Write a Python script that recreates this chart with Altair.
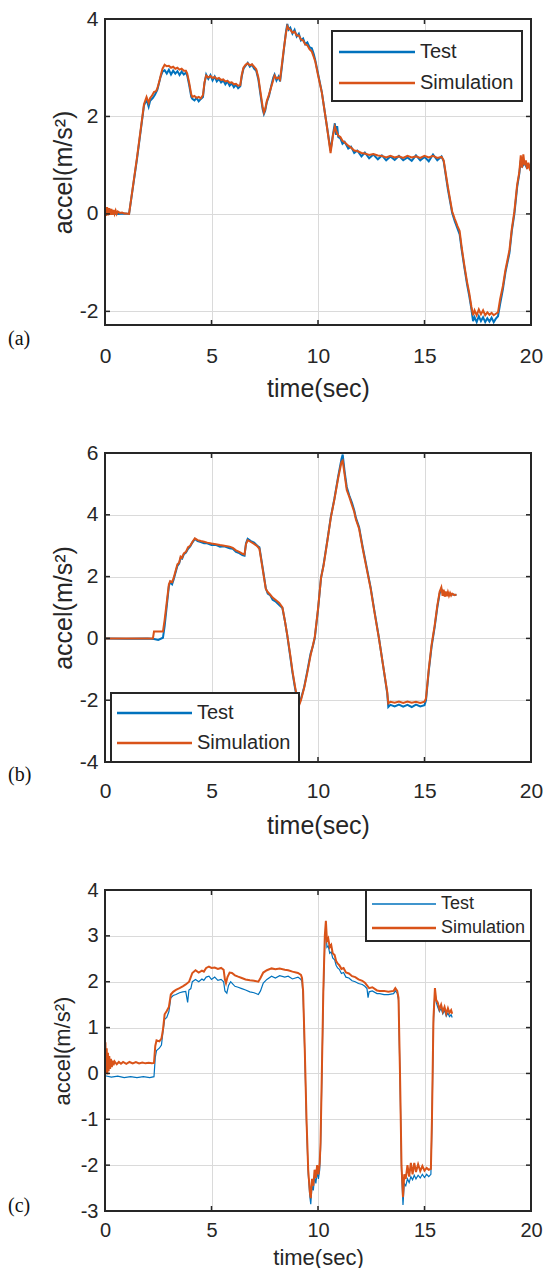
import altair as alt
import pandas as pd

series_names = ["Test", "Simulation"]
series_colors = ["#0072BD", "#D95319"]
x_ticks = [0, 5, 10, 15, 20]
x_domain = [0, 20]
x_title = "time(sec)"
y_title = "accel(m/s\u00b2)"

# ---------------- panel (a) ----------------
a_y_domain = [-2.28, 4]
a_y_ticks = [-2, 0, 2, 4]
a_test = [
    (0.0, 0.00), (0.3, 0.01), (0.6, 0.00), (0.9, 0.01), (1.13, 0.00), (1.50, 1.12), (1.83, 2.22), (1.95, 2.35),
    (2.05, 2.20), (2.12, 2.32), (2.25, 2.38), (2.35, 2.45), (2.46, 2.55), (2.60, 2.80), (2.70, 2.92), (2.80, 2.95),
    (2.90, 2.88), (3.00, 2.96), (3.10, 2.86), (3.20, 2.94), (3.30, 2.88), (3.40, 2.93), (3.50, 2.85), (3.60, 2.92),
    (3.70, 2.86), (3.80, 2.90), (3.86, 2.84), (3.95, 2.65), (4.05, 2.40), (4.10, 2.36), (4.20, 2.33), (4.30, 2.38),
    (4.40, 2.31), (4.50, 2.36), (4.60, 2.40), (4.67, 2.68), (4.75, 2.86), (4.85, 2.77), (4.95, 2.85), (5.05, 2.74),
    (5.15, 2.82), (5.25, 2.72), (5.35, 2.77), (5.45, 2.70), (5.55, 2.74), (5.65, 2.66), (5.75, 2.72), (5.85, 2.63),
    (5.95, 2.68), (6.05, 2.60), (6.15, 2.65), (6.25, 2.58), (6.35, 2.62), (6.42, 2.82), (6.50, 2.98), (6.60, 3.04),
    (6.70, 3.10), (6.80, 3.02), (6.90, 3.06), (7.00, 2.98), (7.10, 2.94), (7.20, 2.76), (7.30, 2.45), (7.40, 2.15),
    (7.46, 2.05), (7.52, 2.12), (7.60, 2.30), (7.70, 2.42), (7.80, 2.62), (7.90, 2.80), (7.96, 2.86), (8.05, 2.74),
    (8.15, 2.82), (8.22, 2.72), (8.30, 3.00), (8.40, 3.38), (8.50, 3.75), (8.56, 3.90), (8.62, 3.78), (8.70, 3.82),
    (8.80, 3.70), (8.90, 3.78), (9.00, 3.64), (9.10, 3.70), (9.20, 3.56), (9.30, 3.60), (9.40, 3.48), (9.50, 3.52),
    (9.60, 3.42), (9.71, 3.40), (9.80, 3.28), (9.87, 3.16), (10.00, 2.88), (10.18, 2.50), (10.40, 1.85), (10.59, 1.30),
    (10.70, 1.62), (10.79, 1.86), (10.85, 1.62), (10.90, 1.80), (10.95, 1.58), (11.05, 1.55), (11.15, 1.44), (11.25, 1.48),
    (11.42, 1.34), (11.55, 1.38), (11.70, 1.25), (11.85, 1.30), (12.04, 1.18), (12.20, 1.26), (12.40, 1.14), (12.60, 1.22),
    (12.81, 1.12), (13.00, 1.20), (13.20, 1.10), (13.40, 1.18), (13.60, 1.11), (13.80, 1.19), (14.00, 1.10), (14.20, 1.16),
    (14.40, 1.09), (14.60, 1.20), (14.80, 1.10), (15.00, 1.17), (15.20, 1.08), (15.40, 1.22), (15.60, 1.10), (15.80, 1.18),
    (15.90, 1.08), (16.10, 0.50), (16.30, 0.02), (16.42, -0.15), (16.55, -0.30), (16.65, -0.42), (16.75, -0.75), (16.88, -1.12),
    (17.00, -1.45), (17.10, -1.68), (17.20, -1.95), (17.28, -2.20), (17.35, -2.12), (17.45, -2.22), (17.55, -2.10), (17.65, -2.20),
    (17.75, -2.12), (17.85, -2.22), (17.95, -2.14), (18.05, -2.21), (18.15, -2.13), (18.25, -2.22), (18.35, -2.15), (18.45, -2.10),
    (18.55, -1.85), (18.68, -1.55), (18.80, -1.20), (18.99, -0.80), (19.10, -0.35), (19.22, 0.00), (19.35, 0.55), (19.45, 0.82),
    (19.52, 1.10), (19.60, 0.98), (19.70, 1.05), (19.80, 0.95), (19.90, 1.00), (20.00, 0.96),
]
a_sim = [
    (0.00, 0.16), (0.05, -0.04), (0.10, 0.14), (0.15, -0.03), (0.20, 0.12), (0.25, -0.02), (0.30, 0.10), (0.35, -0.02),
    (0.40, 0.08), (0.45, 0.00), (0.50, 0.07), (0.55, 0.00), (0.60, 0.05), (0.70, 0.02), (0.80, 0.03), (0.90, 0.01),
    (1.00, 0.01), (1.13, 0.00), (1.50, 1.15), (1.83, 2.25), (1.95, 2.40), (2.05, 2.28), (2.12, 2.38), (2.20, 2.42),
    (2.30, 2.50), (2.40, 2.52), (2.46, 2.58), (2.55, 2.72), (2.62, 2.85), (2.70, 2.98), (2.80, 3.06), (2.90, 3.03),
    (3.00, 3.04), (3.10, 3.00), (3.20, 3.02), (3.30, 2.98), (3.40, 3.00), (3.50, 2.96), (3.60, 2.98), (3.70, 2.94),
    (3.80, 2.94), (3.86, 2.88), (3.95, 2.70), (4.05, 2.45), (4.10, 2.40), (4.20, 2.42), (4.30, 2.38), (4.40, 2.40),
    (4.50, 2.37), (4.60, 2.44), (4.67, 2.70), (4.75, 2.84), (4.85, 2.80), (4.95, 2.83), (5.05, 2.79), (5.15, 2.81),
    (5.25, 2.77), (5.35, 2.79), (5.45, 2.75), (5.55, 2.76), (5.65, 2.72), (5.75, 2.73), (5.85, 2.69), (5.95, 2.70),
    (6.05, 2.66), (6.15, 2.67), (6.25, 2.63), (6.35, 2.64), (6.42, 2.85), (6.50, 3.00), (6.60, 3.06), (6.70, 3.09),
    (6.80, 3.05), (6.90, 3.07), (7.00, 3.02), (7.10, 2.97), (7.20, 2.80), (7.30, 2.50), (7.40, 2.20), (7.46, 2.08),
    (7.52, 2.15), (7.60, 2.32), (7.70, 2.45), (7.80, 2.60), (7.90, 2.75), (7.96, 2.84), (8.05, 2.78), (8.15, 2.80),
    (8.22, 2.76), (8.30, 3.05), (8.40, 3.40), (8.50, 3.72), (8.56, 3.85), (8.62, 3.80), (8.70, 3.78), (8.80, 3.72),
    (8.90, 3.74), (9.00, 3.66), (9.10, 3.66), (9.20, 3.58), (9.30, 3.56), (9.40, 3.48), (9.50, 3.46), (9.60, 3.38),
    (9.71, 3.33), (9.80, 3.22), (9.87, 3.13), (10.00, 2.85), (10.18, 2.49), (10.40, 1.85), (10.59, 1.25), (10.70, 1.60),
    (10.79, 1.79), (10.87, 1.68), (10.95, 1.61), (11.05, 1.58), (11.15, 1.50), (11.25, 1.47), (11.42, 1.40), (11.55, 1.36),
    (11.70, 1.30), (11.85, 1.29), (12.04, 1.25), (12.20, 1.24), (12.40, 1.21), (12.60, 1.23), (12.81, 1.20), (13.00, 1.19),
    (13.20, 1.16), (13.40, 1.19), (13.60, 1.16), (13.80, 1.18), (14.00, 1.15), (14.20, 1.19), (14.40, 1.16), (14.60, 1.18),
    (14.80, 1.15), (15.00, 1.19), (15.20, 1.16), (15.40, 1.19), (15.60, 1.15), (15.80, 1.17), (15.90, 1.10), (16.10, 0.55),
    (16.30, 0.05), (16.42, -0.10), (16.55, -0.25), (16.65, -0.35), (16.75, -0.70), (16.88, -1.08), (17.00, -1.40), (17.10, -1.62),
    (17.20, -1.90), (17.28, -2.08), (17.35, -1.98), (17.45, -2.08), (17.55, -1.96), (17.65, -2.06), (17.75, -1.98), (17.85, -2.08),
    (17.95, -2.02), (18.05, -2.07), (18.15, -2.03), (18.25, -2.08), (18.35, -2.05), (18.45, -2.02), (18.55, -1.75), (18.68, -1.48),
    (18.80, -1.15), (18.99, -0.74), (19.10, -0.30), (19.22, 0.05), (19.35, 0.60), (19.45, 0.85), (19.52, 1.20), (19.58, 0.95),
    (19.64, 1.22), (19.70, 1.00), (19.76, 1.10), (19.82, 0.92), (19.88, 1.05), (19.94, 0.93), (20.00, 0.98),
]

# ---------------- panel (b) ----------------
b_y_domain = [-4, 6]
b_y_ticks = [-4, -2, 0, 2, 4, 6]
b_test = [
    (0.0, 0.00), (1.0, -0.01), (2.0, 0.00), (2.30, -0.02), (2.50, -0.05), (2.72, 0.02), (2.80, 0.40), (3.00, 1.70),
    (3.06, 1.82), (3.15, 1.75), (3.22, 1.90), (3.30, 2.10), (3.40, 2.35), (3.48, 2.42), (3.55, 2.60), (3.62, 2.58),
    (3.70, 2.72), (3.80, 2.78), (3.90, 2.90), (4.00, 2.98), (4.10, 3.10), (4.22, 3.22), (4.35, 3.15), (4.50, 3.12),
    (4.65, 3.08), (4.80, 3.08), (5.00, 3.02), (5.20, 3.03), (5.40, 2.97), (5.60, 2.98), (5.85, 2.92), (6.00, 2.90),
    (6.15, 2.80), (6.30, 2.76), (6.45, 2.70), (6.55, 2.68), (6.62, 3.08), (6.70, 3.22), (6.85, 3.15), (7.00, 3.10),
    (7.15, 3.00), (7.25, 2.95), (7.40, 2.30), (7.55, 1.62), (7.64, 1.45), (7.75, 1.40), (7.87, 1.25), (8.00, 1.20),
    (8.18, 1.08), (8.33, 0.98), (8.45, 0.55), (8.56, 0.08), (8.70, -0.60), (8.80, -1.10), (8.92, -1.60), (9.00, -1.90),
    (9.04, -2.25), (9.12, -2.10), (9.20, -1.95), (9.35, -1.58), (9.50, -1.05), (9.65, -0.50), (9.77, -0.22), (9.85, 0.02),
    (10.00, 0.92), (10.14, 1.95), (10.26, 2.38), (10.45, 3.22), (10.60, 3.92), (10.77, 4.52), (10.95, 5.25), (11.10, 5.80),
    (11.16, 5.95), (11.25, 5.40), (11.35, 4.90), (11.47, 4.62), (11.60, 4.38), (11.70, 4.15), (11.78, 3.90), (11.93, 3.60),
    (12.10, 2.95), (12.30, 2.25), (12.47, 1.65), (12.65, 0.88), (12.86, 0.02), (13.05, -0.85), (13.25, -1.78), (13.30, -2.22),
    (13.40, -2.15), (13.60, -2.20), (13.80, -2.14), (14.00, -2.21), (14.20, -2.15), (14.40, -2.22), (14.60, -2.14), (14.80, -2.20),
    (15.00, -2.16), (15.07, -2.00), (15.20, -1.05), (15.33, -0.28), (15.48, 0.38), (15.60, 1.00), (15.71, 1.45), (15.79, 1.60),
    (15.90, 1.45), (16.00, 1.42), (16.10, 1.45), (16.20, 1.40), (16.30, 1.43), (16.50, 1.40),
]
b_sim = [
    (0.0, 0.00), (0.5, 0.00), (1.0, 0.00), (1.5, 0.00), (2.0, 0.00), (2.25, 0.00), (2.30, 0.22), (2.72, 0.22),
    (2.80, 0.60), (3.00, 1.75), (3.06, 1.85), (3.15, 1.82), (3.22, 1.95), (3.30, 2.15), (3.40, 2.40), (3.48, 2.45),
    (3.55, 2.65), (3.62, 2.62), (3.70, 2.75), (3.80, 2.80), (3.90, 2.95), (4.00, 3.00), (4.10, 3.12), (4.22, 3.24),
    (4.35, 3.18), (4.50, 3.15), (4.65, 3.13), (4.80, 3.10), (5.00, 3.07), (5.20, 3.05), (5.40, 3.02), (5.60, 3.00),
    (5.85, 2.97), (6.00, 2.93), (6.15, 2.85), (6.30, 2.80), (6.45, 2.74), (6.55, 2.72), (6.62, 3.05), (6.70, 3.18),
    (6.85, 3.12), (7.00, 3.06), (7.15, 2.98), (7.25, 2.90), (7.40, 2.25), (7.55, 1.60), (7.64, 1.50), (7.75, 1.42),
    (7.87, 1.32), (8.00, 1.25), (8.18, 1.15), (8.33, 1.00), (8.45, 0.55), (8.56, 0.10), (8.70, -0.55), (8.80, -1.05),
    (8.92, -1.55), (9.00, -1.85), (9.04, -2.30), (9.12, -2.15), (9.20, -2.00), (9.35, -1.60), (9.50, -1.10), (9.65, -0.55),
    (9.77, -0.20), (9.85, 0.05), (10.00, 0.95), (10.14, 1.95), (10.26, 2.35), (10.45, 3.20), (10.60, 3.90), (10.77, 4.50),
    (10.95, 5.20), (11.10, 5.70), (11.16, 5.75), (11.25, 5.30), (11.35, 4.80), (11.47, 4.58), (11.60, 4.30), (11.70, 4.10),
    (11.78, 3.85), (11.93, 3.55), (12.10, 2.90), (12.30, 2.20), (12.47, 1.62), (12.65, 0.85), (12.86, 0.00), (13.05, -0.85),
    (13.25, -1.73), (13.30, -2.10), (13.40, -2.05), (13.60, -2.08), (13.80, -2.04), (14.00, -2.09), (14.20, -2.04), (14.40, -2.08),
    (14.60, -2.05), (14.80, -2.09), (15.00, -2.05), (15.07, -1.94), (15.20, -1.00), (15.33, -0.22), (15.48, 0.43), (15.60, 1.05),
    (15.71, 1.51), (15.79, 1.65), (15.85, 1.38), (15.90, 1.58), (15.95, 1.35), (16.00, 1.52), (16.05, 1.36), (16.10, 1.50),
    (16.15, 1.38), (16.20, 1.47), (16.25, 1.39), (16.30, 1.45), (16.40, 1.40), (16.50, 1.42),
]

# ---------------- panel (c) ----------------
c_y_domain = [-3, 4]
c_y_ticks = [-3, -2, -1, 0, 1, 2, 3, 4]
c_test = [
    (0.0, -0.05), (0.3, -0.08), (0.6, -0.06), (0.9, -0.09), (1.2, -0.07), (1.5, -0.09), (1.8, -0.07), (2.1, -0.09),
    (2.30, -0.07), (2.36, 0.35), (2.42, 0.50), (2.55, 0.55), (2.65, 0.62), (2.72, 0.90), (2.80, 1.18), (2.90, 1.22),
    (3.00, 1.35), (3.09, 1.65), (3.20, 1.70), (3.33, 1.72), (3.50, 1.76), (3.65, 1.78), (3.79, 1.79), (3.88, 1.55),
    (3.94, 1.82), (4.03, 1.85), (4.10, 2.00), (4.25, 2.05), (4.40, 2.00), (4.55, 2.06), (4.64, 2.03), (4.75, 2.10),
    (4.88, 2.12), (5.00, 2.05), (5.15, 2.10), (5.30, 2.03), (5.45, 2.05), (5.57, 2.00), (5.63, 1.80), (5.72, 1.75),
    (5.80, 1.92), (5.90, 2.00), (5.96, 1.97), (6.10, 1.90), (6.25, 1.88), (6.42, 1.85), (6.60, 1.82), (6.80, 1.78),
    (7.00, 1.76), (7.20, 1.72), (7.30, 1.80), (7.43, 1.97), (7.60, 2.05), (7.82, 2.12), (8.00, 2.08), (8.20, 2.13),
    (8.44, 2.10), (8.60, 2.12), (8.80, 2.06), (9.06, 2.10), (9.20, 2.05), (9.25, 2.00), (9.30, 1.70), (9.38, 0.40),
    (9.46, -1.10), (9.54, -2.20), (9.62, -2.70), (9.66, -2.85), (9.72, -2.45), (9.78, -2.55), (9.84, -2.25), (9.90, -2.40),
    (9.96, -2.15), (10.02, -2.30), (10.08, -2.10), (10.12, -1.65), (10.18, -0.10), (10.25, 1.70), (10.32, 2.85), (10.37, 3.20),
    (10.42, 2.75), (10.48, 2.78), (10.55, 2.62), (10.62, 2.65), (10.69, 2.52), (10.78, 2.48), (10.85, 2.36), (10.92, 2.30),
    (11.00, 2.27), (11.10, 2.18), (11.20, 2.20), (11.31, 2.10), (11.45, 2.08), (11.60, 2.02), (11.75, 2.00), (11.90, 1.96),
    (12.08, 1.94), (12.20, 1.90), (12.30, 1.85), (12.35, 1.65), (12.40, 1.78), (12.55, 1.80), (12.77, 1.74), (12.90, 1.74),
    (13.10, 1.72), (13.30, 1.72), (13.55, 1.74), (13.63, 1.80), (13.72, 1.75), (13.78, 1.60), (13.85, -0.10), (13.92, -2.10),
    (13.99, -2.87), (14.05, -2.40), (14.12, -2.45), (14.20, -2.30), (14.28, -2.38), (14.36, -2.25), (14.44, -2.32), (14.52, -2.22),
    (14.60, -2.30), (14.70, -2.22), (14.80, -2.28), (14.90, -2.20), (15.00, -2.27), (15.10, -2.20), (15.20, -2.25), (15.30, -2.20),
    (15.35, -1.10), (15.42, 1.10), (15.49, 1.80), (15.55, 1.55), (15.62, 1.45), (15.70, 1.35), (15.78, 1.42), (15.86, 1.30),
    (15.94, 1.38), (16.02, 1.25), (16.10, 1.32), (16.17, 1.24), (16.25, 1.28), (16.30, 1.22),
]
c_sim = [
    (0.00, 0.20), (0.02, 0.68), (0.05, 0.00), (0.08, 0.55), (0.11, -0.02), (0.14, 0.45), (0.17, 0.05), (0.20, 0.38),
    (0.24, 0.10), (0.28, 0.32), (0.32, 0.14), (0.36, 0.28), (0.40, 0.18), (0.45, 0.26), (0.55, 0.20), (0.65, 0.25),
    (0.75, 0.21), (0.85, 0.25), (1.00, 0.21), (1.15, 0.25), (1.30, 0.22), (1.45, 0.25), (1.60, 0.22), (1.75, 0.24),
    (1.90, 0.22), (2.05, 0.23), (2.20, 0.22), (2.30, 0.23), (2.36, 0.60), (2.42, 0.72), (2.55, 0.70), (2.65, 0.76),
    (2.72, 0.95), (2.80, 1.29), (2.90, 1.36), (3.00, 1.45), (3.09, 1.72), (3.20, 1.78), (3.33, 1.82), (3.50, 1.86),
    (3.65, 1.90), (3.79, 1.94), (3.95, 2.00), (4.10, 2.19), (4.25, 2.25), (4.40, 2.20), (4.55, 2.24), (4.64, 2.22),
    (4.75, 2.30), (4.88, 2.33), (5.00, 2.30), (5.15, 2.31), (5.30, 2.28), (5.45, 2.30), (5.57, 2.26), (5.63, 2.05),
    (5.68, 1.97), (5.75, 2.10), (5.85, 2.20), (5.96, 2.19), (6.10, 2.14), (6.25, 2.11), (6.42, 2.08), (6.60, 2.05),
    (6.80, 2.03), (7.00, 2.02), (7.20, 2.00), (7.30, 2.08), (7.43, 2.20), (7.60, 2.25), (7.82, 2.29), (8.00, 2.27),
    (8.20, 2.29), (8.44, 2.26), (8.60, 2.25), (8.80, 2.22), (9.06, 2.19), (9.20, 2.15), (9.25, 2.08), (9.30, 1.80),
    (9.38, 0.50), (9.46, -1.00), (9.54, -2.10), (9.62, -2.60), (9.66, -2.72), (9.72, -2.30), (9.78, -2.45), (9.84, -2.10),
    (9.90, -2.28), (9.96, -2.00), (10.02, -2.20), (10.08, -1.95), (10.12, -1.50), (10.18, 0.00), (10.25, 1.80), (10.32, 3.00),
    (10.37, 3.33), (10.42, 2.90), (10.48, 2.95), (10.55, 2.75), (10.62, 2.80), (10.69, 2.62), (10.78, 2.58), (10.85, 2.45),
    (10.92, 2.40), (11.00, 2.36), (11.10, 2.28), (11.20, 2.30), (11.31, 2.20), (11.45, 2.18), (11.60, 2.12), (11.75, 2.10),
    (11.90, 2.05), (12.08, 2.02), (12.20, 1.98), (12.30, 1.92), (12.40, 1.86), (12.55, 1.88), (12.77, 1.81), (12.90, 1.80),
    (13.10, 1.80), (13.30, 1.78), (13.55, 1.80), (13.63, 1.86), (13.72, 1.80), (13.78, 1.65), (13.85, 0.00), (13.92, -2.00),
    (13.99, -2.70), (14.05, -2.20), (14.12, -2.30), (14.20, -2.00), (14.28, -2.25), (14.36, -1.95), (14.44, -2.20), (14.52, -1.95),
    (14.60, -2.15), (14.70, -1.98), (14.80, -2.13), (14.90, -2.02), (15.00, -2.12), (15.10, -2.06), (15.20, -2.10), (15.30, -2.08),
    (15.35, -1.00), (15.42, 1.20), (15.49, 1.86), (15.55, 1.60), (15.62, 1.55), (15.70, 1.40), (15.78, 1.50), (15.86, 1.35),
    (15.94, 1.45), (16.02, 1.30), (16.10, 1.42), (16.17, 1.32), (16.25, 1.38), (16.30, 1.30),
]

FONT = "Liberation Sans"
TXT = "#262626"
GRID = "#dadada"
TAG_X = -97


def panel(test, sim, ydom, yticks, W, H, lab_fs, xtit_fs, ytit_fs, xlabpad, xtitlepad, ytitlepad,
          leg, tag, tag_y, test_w, sim_w):
    df_test = pd.DataFrame(test, columns=["t", "v"])
    df_sim = pd.DataFrame(sim, columns=["t", "v"])
    xs = alt.Scale(domain=x_domain, nice=False, zero=False)
    ys = alt.Scale(domain=ydom, nice=False, zero=False)
    xax = alt.Axis(values=x_ticks, title=x_title, grid=True, gridColor=GRID, gridWidth=1,
                   domain=False, ticks=False, labelFlush=False, labelFont=FONT, labelFontSize=lab_fs,
                   labelColor=TXT, labelPadding=xlabpad, labelExpr="'' + datum.value",
                   titleFont=FONT, titleFontSize=xtit_fs, titleColor=TXT, titleFontWeight="normal",
                   titlePadding=xtitlepad)
    yax = alt.Axis(values=yticks, title=y_title, grid=True, gridColor=GRID, gridWidth=1,
                   domain=False, ticks=False, labelFont=FONT, labelFontSize=lab_fs, labelColor=TXT,
                   labelPadding=7, labelExpr="'' + datum.value", titleFont=FONT, titleFontSize=ytit_fs,
                   titleColor=TXT, titleFontWeight="normal", titlePadding=ytitlepad)
    X = alt.X("t:Q", scale=xs, axis=xax)
    Y = alt.Y("v:Q", scale=ys, axis=yax)

    l_test = alt.Chart(df_test).mark_line(color=series_colors[0], strokeWidth=test_w, clip=True).encode(x=X, y=Y)
    l_sim = alt.Chart(df_sim).mark_line(color=series_colors[1], strokeWidth=sim_w, clip=True).encode(x=X, y=Y)

    dx = pd.DataFrame({"t": x_ticks})
    dy = pd.DataFrame({"v": yticks})
    tick_b = alt.Chart(dx).mark_rule(color=TXT, strokeWidth=1.5).encode(x=X, y=alt.value(H), y2=alt.value(H - 5))
    tick_t = alt.Chart(dx).mark_rule(color=TXT, strokeWidth=1.5).encode(x=X, y=alt.value(0), y2=alt.value(5))
    tick_l = alt.Chart(dy).mark_rule(color=TXT, strokeWidth=1.5).encode(y=Y, x=alt.value(0), x2=alt.value(5))
    tick_r = alt.Chart(dy).mark_rule(color=TXT, strokeWidth=1.5).encode(y=Y, x=alt.value(W - 5), x2=alt.value(W))

    one = pd.DataFrame({"k": [0]})
    frame = alt.Chart(one).mark_rect(fillOpacity=0, stroke=TXT, strokeWidth=2).encode(
        x=alt.value(0), x2=alt.value(W), y=alt.value(0), y2=alt.value(H))

    bx0, bx1, by0, by1, sx0, sx1, tx, ty0, ty1, lfs = leg
    box = alt.Chart(one).mark_rect(fill="white", stroke=TXT, strokeWidth=2).encode(
        x=alt.value(bx0), x2=alt.value(bx1), y=alt.value(by0), y2=alt.value(by1))
    sym0 = alt.Chart(one).mark_rule(color=series_colors[0], strokeWidth=test_w + 0.5).encode(
        x=alt.value(sx0), x2=alt.value(sx1), y=alt.value(ty0))
    sym1 = alt.Chart(one).mark_rule(color=series_colors[1], strokeWidth=sim_w + 0.5).encode(
        x=alt.value(sx0), x2=alt.value(sx1), y=alt.value(ty1))
    txt0 = alt.Chart(one).mark_text(text=series_names[0], align="left", baseline="middle", font=FONT,
                                    fontSize=lfs, color=TXT).encode(x=alt.value(tx), y=alt.value(ty0))
    txt1 = alt.Chart(one).mark_text(text=series_names[1], align="left", baseline="middle", font=FONT,
                                    fontSize=lfs, color=TXT).encode(x=alt.value(tx), y=alt.value(ty1))
    tag_t = alt.Chart(one).mark_text(text=tag, align="left", baseline="middle", font="Liberation Serif",
                                     fontSize=20, color="#111111").encode(x=alt.value(TAG_X), y=alt.value(tag_y))

    return alt.layer(l_test, l_sim, tick_b, tick_t, tick_l, tick_r, frame,
                     box, sym0, sym1, txt0, txt1, tag_t).properties(width=W, height=H)


HA, HB, HC = 306, 309, 321
WA, WB, WC = 426, 426, 426
pa = panel(a_test, a_sim, a_y_domain, a_y_ticks, WA, HA, 21, 25, 25, 20, 10, 3,
           (227, 417, 12, 82, 234, 310, 315, 33, 64, 20), "(a)", HA + 14, 2, 2)
pb = panel(b_test, b_sim, b_y_domain, b_y_ticks, WB, HB, 21, 25, 25, 18, 12, 3,
           (6, 194, HB - 69, HB, 12, 87, 92, HB - 49, HB - 19, 20), "(b)", HB + 13, 2, 2)
pc = panel(c_test, c_sim, c_y_domain, c_y_ticks, WC, HC, 20, 22, 22, 9, 7, 6,
           (WC - 165, WC, 0, 51, WC - 159, WC - 95, WC - 90, 14, 38, 18), "(c)", HC - 5, 1.2, 2)

chart = alt.vconcat(pa, pb, pc, spacing=128, bounds="flush").properties(padding=0).configure_view(strokeWidth=0)
chart.save("out.html", embed_options={"renderer": "svg", "actions": False})
